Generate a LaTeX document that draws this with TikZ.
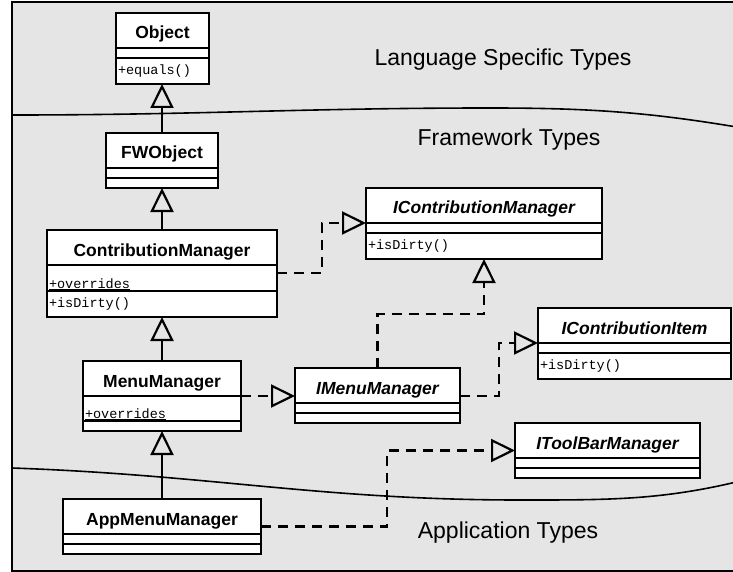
\documentclass[tikz,border=0pt]{standalone}
\usepackage{fontspec}
\setmainfont{Liberation Sans}
\setmonofont{Liberation Mono}
\usepackage{tikz}
\usetikzlibrary{arrows.meta,positioning}
\usepackage{xcolor}
\definecolor{panelgray}{RGB}{229,229,229}
\newcommand{\clsfont}{\fontsize{17.5}{20}\selectfont\bfseries}
\newcommand{\opfont}{\fontsize{13.5}{16}\selectfont\ttfamily}
\tikzstyle{border} = [line width=1.6pt]
\tikzstyle{region} = [font=\fontsize{23}{27}\selectfont]
\tikzstyle{inherit} = [line width=2.2pt,-{Triangle[open,length=24pt,width=23pt]}]
\tikzstyle{realize} = [inherit,dash pattern=on 10pt off 7pt]
\tikzset{
  clsname/.style={draw,fill=white,line width=2pt,inner sep=0pt,outer sep=0pt,anchor=north west,
    minimum width=#1,minimum height=35pt,text height=17pt,text depth=0pt,font=\clsfont},
  ifcname/.style={clsname=#1,font=\clsfont\itshape},
  clsempty/.style={draw,fill=white,line width=2pt,inner sep=0pt,outer sep=0pt,
    minimum width=#1,minimum height=10pt},
  clsfull/.style={draw,fill=white,line width=2pt,inner xsep=2pt,inner ysep=0pt,outer sep=0pt,
    minimum width=#1,text width={#1-4pt},minimum height=26pt,align=left,font=\opfont},
  clsattr/.style={clsfull=#1,inner ysep=2pt,text height=21pt,text depth=1pt}
}

\begin{document}
\begin{tikzpicture}[x=1pt,y=-1pt]
\clip (0,0) rectangle (733,572);
% panel with the three type regions
\draw[line width=2pt,fill=panelgray] (12,2) rectangle (760,571);
\draw[border] (12,115) to[out=0,in=180] (490,108) to[out=0,in=170] (760,131);
\draw[border] (12,468) to[out=-2,in=180] (520,500) to[out=0,in=-165] (760,476);
\node[region] (lang) at (503,60) {Language Specific Types};
\node[region] (frame) at (509,140) {Framework Types};
\node[region] (app) at (508,533) {Application Types};

% classes
\node[clsname=93pt] (obj) at (116,13) {Object};
\node[clsempty=93pt,below=0pt of obj] (objattr) {};
\node[clsfull=93pt,below=0pt of objattr] (objop) {+equals()};

\node[clsname=112pt] (fwobj) at (106,133) {FWObject};
\node[clsempty=112pt,below=0pt of fwobj] (fwobjattr) {};
\node[clsempty=112pt,below=0pt of fwobjattr] (fwobjop) {};

\node[clsname=230pt] (cmgr) at (47,230) {ContributionManager};
\node[clsattr=230pt,below=0pt of cmgr] (cmgrattr) {\underline{+overrides}};
\node[clsfull=230pt,below=0pt of cmgrattr] (cmgrop) {+isDirty()};

\node[clsname=158pt] (mmgr) at (83,361) {MenuManager};
\node[clsattr=158pt,below=0pt of mmgr,minimum height=25pt,text height=20pt] (mmgrattr) {\underline{+overrides}};
\node[clsempty=158pt,below=0pt of mmgrattr] (mmgrop) {};

\node[clsname=198pt] (appmgr) at (63,499) {AppMenuManager};
\node[clsempty=198pt,below=0pt of appmgr] (appmgrattr) {};
\node[clsempty=198pt,below=0pt of appmgrattr] (appmgrop) {};

% interfaces
\node[ifcname=236pt] (icmgr) at (366,188) {IContributionManager};
\node[clsempty=236pt,below=0pt of icmgr] (icmgrattr) {};
\node[clsfull=236pt,below=0pt of icmgrattr] (icmgrop) {+isDirty()};

\node[ifcname=193pt] (icitem) at (538,308) {IContributionItem};
\node[clsempty=193pt,below=0pt of icitem] (icitemattr) {};
\node[clsfull=193pt,below=0pt of icitemattr] (icitemop) {+isDirty()};

\node[ifcname=165pt] (imenu) at (295,368) {IMenuManager};
\node[clsempty=165pt,below=0pt of imenu] (imenuattr) {};
\node[clsempty=165pt,below=0pt of imenuattr] (imenuop) {};

\node[ifcname=185pt] (itoolbar) at (515,423) {IToolBarManager};
\node[clsempty=185pt,below=0pt of itoolbar] (itoolbarattr) {};
\node[clsempty=185pt,below=0pt of itoolbarattr] (itoolbarop) {};

% generalization
\draw[inherit] (fwobj.north) -- (fwobj.north |- objop.south);
\draw[inherit] (cmgr.north) -- (cmgr.north |- fwobjop.south);
\draw[inherit] (mmgr.north) -- (mmgr.north |- cmgrop.south);
\draw[inherit] (appmgr.north) -- (appmgr.north |- mmgrop.south);

% realization
\draw[realize] ([yshift=-8pt]cmgr.south east) -- ++(45,0) |- (icmgr.south west);
\draw[realize] (imenu.north) -- ++(0,-54) -| (icmgrop.south);
\draw[realize] ([yshift=-10.5pt]imenu.east) -- ++(39,0) |- (icitem.south west);
\draw[realize] (mmgr.south east) -- (mmgr.south east -| imenu.west);
\draw[realize] ([yshift=-10pt]appmgr.east) -- ++(126,0) |- ([yshift=-10pt]itoolbar.west);
\end{tikzpicture}
\end{document}
